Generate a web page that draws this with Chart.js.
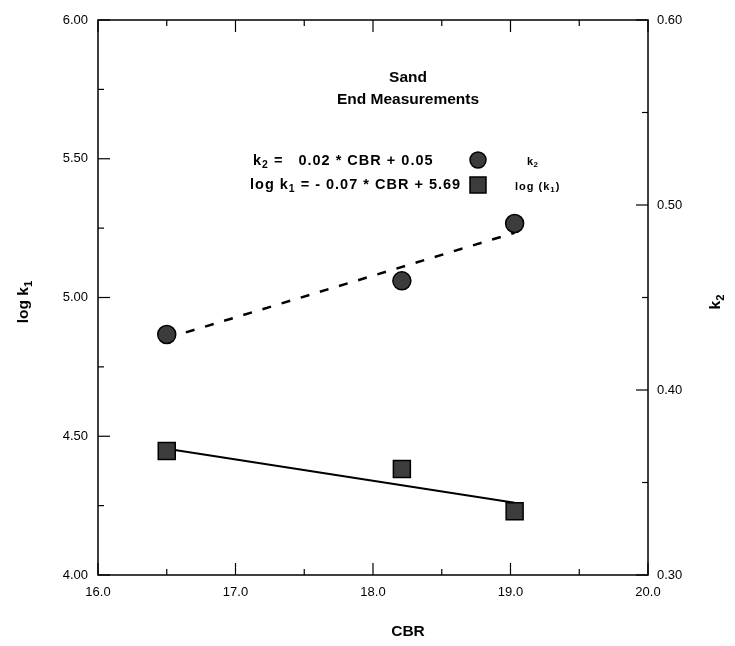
<!DOCTYPE html>
<html>
<head>
<meta charset="utf-8">
<title>Sand - End Measurements</title>
<script src="https://cdn.jsdelivr.net/npm/chart.js@4.4.1/dist/chart.umd.min.js"></script>
<style>
  html, body { margin: 0; padding: 0; background: #fff; }
  #js-chart-sand { display: block; }
</style>
</head>
<body>
<canvas id="js-chart-sand" width="735" height="646"></canvas>
<script>
// Data
const cbr = [16.5, 18.21, 19.03];
const k2Values = [0.430, 0.459, 0.490];
const logK1Values = [4.447, 4.382, 4.23];

// Regression lines (end points as drawn)
const fitCbr = [16.5, 19.03];
const k2Fit = [0.428, 0.485];
const logK1Fit = [4.455, 4.26];

// Axis ranges / ticks
const xTicks = [16, 17, 18, 19, 20];
const yLeftTicks = [4.0, 4.5, 5.0, 5.5, 6.0];
const yRightTicks = [0.3, 0.4, 0.5, 0.6];

const FONT = '"Liberation Sans", Arial, Helvetica, sans-serif';

// draw text pieces, some of them as subscripts
function drawRich(ctx, parts, x, y, size, align, spacing, weight) {
  const w = weight || 'bold';
  ctx.letterSpacing = (spacing || 0) + 'px';
  let width = 0;
  parts.forEach(p => {
    ctx.font = w + ' ' + (p.sub ? size * 0.72 : size) + 'px ' + FONT;
    width += ctx.measureText(p.t).width;
  });
  let cx = align === 'center' ? x - width / 2 : x;
  parts.forEach(p => {
    ctx.font = w + ' ' + (p.sub ? size * 0.72 : size) + 'px ' + FONT;
    ctx.fillText(p.t, cx, p.sub ? y + size * 0.3 : y);
    cx += ctx.measureText(p.t).width;
  });
  ctx.letterSpacing = '0px';
}

// Frame with inward ticks, major + minor
const frameTicks = {
  id: 'frameTicks',
  afterDraw(chart) {
    const { ctx, chartArea: a, scales } = chart;
    ctx.save();
    ctx.strokeStyle = '#000';
    ctx.lineWidth = 1.5;
    ctx.strokeRect(a.left, a.top, a.right - a.left, a.bottom - a.top);
    ctx.lineWidth = 1.2;

    const line = (x1, y1, x2, y2) => {
      ctx.beginPath(); ctx.moveTo(x1, y1); ctx.lineTo(x2, y2); ctx.stroke();
    };
    const withMinor = (vals) => {
      const out = [];
      vals.forEach((v, i) => {
        out.push({ v, major: true });
        if (i < vals.length - 1) out.push({ v: (v + vals[i + 1]) / 2, major: false });
      });
      return out;
    };

    withMinor(xTicks).forEach(t => {
      const px = scales.x.getPixelForValue(t.v);
      const len = t.major ? 12 : 6;
      line(px, a.bottom, px, a.bottom - len);
      line(px, a.top, px, a.top + len);
    });
    withMinor(yLeftTicks).forEach(t => {
      const py = scales.y.getPixelForValue(t.v);
      line(a.left, py, a.left + (t.major ? 12 : 6), py);
    });
    withMinor(yRightTicks).forEach(t => {
      const py = scales.y2.getPixelForValue(t.v);
      line(a.right, py, a.right - (t.major ? 12 : 6), py);
    });
    ctx.restore();
  }
};

// Title, equations, key and axis titles
const annotations = {
  id: 'annotations',
  afterDraw(chart) {
    const { ctx, chartArea: a } = chart;
    ctx.save();
    ctx.fillStyle = '#000';
    ctx.textBaseline = 'middle';
    ctx.textAlign = 'left';

    drawRich(ctx, [{ t: 'Sand' }], 408, 78, 15.5, 'center');
    drawRich(ctx, [{ t: 'End Measurements' }], 408, 100, 15.5, 'center');

    drawRich(ctx, [{ t: 'k' }, { t: '2', sub: true }, { t: ' =   0.02 * CBR + 0.05' }], 253, 161, 14.5, 'left', 1);
    drawRich(ctx, [{ t: 'log k' }, { t: '1', sub: true }, { t: ' = - 0.07 * CBR + 5.69' }], 250, 185, 14.5, 'left', 1);

    // key markers
    ctx.fillStyle = '#3c3c3c';
    ctx.strokeStyle = '#000';
    ctx.lineWidth = 1.5;
    ctx.beginPath(); ctx.arc(478, 160, 8, 0, Math.PI * 2); ctx.fill(); ctx.stroke();
    ctx.fillRect(470, 177, 16, 16); ctx.strokeRect(470, 177, 16, 16);

    ctx.fillStyle = '#000';
    drawRich(ctx, [{ t: 'k' }, { t: '2', sub: true }], 527, 162, 11, 'left', 0.5);
    drawRich(ctx, [{ t: 'log (k' }, { t: '1', sub: true }, { t: ')' }], 515, 187, 11, 'left', 1);

    // axis titles
    drawRich(ctx, [{ t: 'CBR' }], (a.left + a.right) / 2 + 35, 632, 15.5, 'center');

    ctx.save();
    ctx.translate(24, 302);
    ctx.rotate(-Math.PI / 2);
    drawRich(ctx, [{ t: 'log k' }, { t: '1', sub: true }], 0, 0, 15.5, 'center');
    ctx.restore();

    ctx.save();
    ctx.translate(716, 302);
    ctx.rotate(-Math.PI / 2);
    drawRich(ctx, [{ t: 'k' }, { t: '2', sub: true }], 0, 0, 15.5, 'center');
    ctx.restore();

    ctx.restore();
  }
};

class pageSandChart {
  static initChart() {
    Chart.defaults.color = '#000';
    Chart.defaults.font.family = FONT;
    Chart.defaults.font.size = 13;

    const chartCon = document.getElementById('js-chart-sand');
    if (chartCon === null) return;

    const pts = (xs, ys) => xs.map((x, i) => ({ x, y: ys[i] }));

    const noGrid = { display: false, drawTicks: false };

    new Chart(chartCon, {
      type: 'scatter',
      data: {
        datasets: [
          {
            label: 'k2',
            data: pts(cbr, k2Values),
            yAxisID: 'y2',
            pointStyle: 'circle',
            pointRadius: 9,
            backgroundColor: '#3c3c3c',
            borderColor: '#000',
            borderWidth: 1.5,
            showLine: false
          },
          {
            label: 'log (k1)',
            data: pts(cbr, logK1Values),
            yAxisID: 'y',
            pointStyle: 'rect',
            pointRadius: 12,
            backgroundColor: '#3c3c3c',
            borderColor: '#000',
            borderWidth: 1.5,
            showLine: false
          },
          {
            label: 'k2 fit',
            data: pts(fitCbr, k2Fit),
            yAxisID: 'y2',
            showLine: true,
            borderColor: '#000',
            borderWidth: 2.5,
            borderDash: [9, 11],
            pointRadius: 0
          },
          {
            label: 'log k1 fit',
            data: pts(fitCbr, logK1Fit),
            yAxisID: 'y',
            showLine: true,
            borderColor: '#000',
            borderWidth: 2,
            pointRadius: 0
          }
        ]
      },
      options: {
        responsive: false,
        animation: false,
        devicePixelRatio: 1,
        layout: { padding: { top: 20, right: 0, left: 0, bottom: 0 } },
        plugins: {
          legend: { display: false },
          tooltip: { enabled: false }
        },
        scales: {
          x: {
            type: 'linear',
            position: 'bottom',
            min: 16, max: 20,
            grid: noGrid,
            border: { display: false },
            afterBuildTicks: s => { s.ticks = xTicks.map(v => ({ value: v })); },
            ticks: { padding: 10, callback: v => v.toFixed(1) },
            afterFit: s => { s.height = 71; }
          },
          y: {
            type: 'linear',
            position: 'left',
            min: 4, max: 6,
            grid: noGrid,
            border: { display: false },
            afterBuildTicks: s => { s.ticks = yLeftTicks.map(v => ({ value: v })); },
            ticks: { padding: 10, callback: v => v.toFixed(2) },
            afterFit: s => { s.width = 98; }
          },
          y2: {
            type: 'linear',
            position: 'right',
            min: 0.3, max: 0.6,
            grid: noGrid,
            border: { display: false },
            afterBuildTicks: s => { s.ticks = yRightTicks.map(v => ({ value: v })); },
            ticks: { padding: 9, callback: v => v.toFixed(2) },
            afterFit: s => { s.width = 87; }
          }
        }
      },
      plugins: [frameTicks, annotations]
    });
  }

  static init() {
    this.initChart();
  }
}

pageSandChart.init();
</script>
</body>
</html>
